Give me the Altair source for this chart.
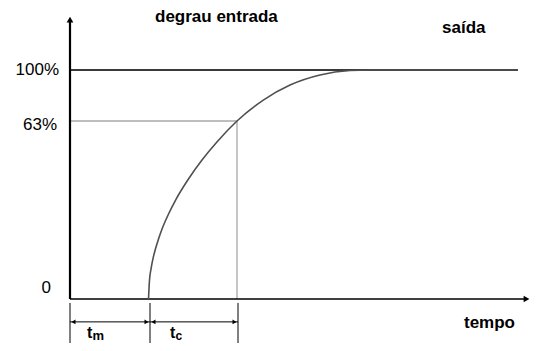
import altair as alt
import pandas as pd

# ---- data (tempo in arbitrary units, response in % of final value) ----
curve_t = [7.85, 7.95, 8.1, 8.3, 8.55, 8.85, 9.25, 9.83, 10.6, 11.83, 13.2, 14.67,
           16.7, 19.33, 22.0, 25.0, 28.0, 30.0, 44.8]
curve_y = [0.0, 6.7, 10.6, 14.3, 17.8, 21.2, 25.2, 29.9, 35.3, 42.4, 49.2, 55.5,
           63.0, 78.2, 89.1, 96.4, 99.6, 100.0, 100.0]

level_labels = ["100%", "63%", "0"]
level_label_t = [-1.1, -1.3, -1.9]
level_label_y = [96.4, 59.8, 2.1]

t_dead = 8.0        # end of tm
t_const = 16.8      # end of tc
t_63 = 16.7
t_end = 44.8
t_axis_end = 45.5
y_axis_top = 135.0
dim_y = -8.1
dim_top = -1.4
dim_bottom = -19.0

x_scale = alt.Scale(domain=[0, 46.5], range=[62, 527])
y_scale = alt.Scale(domain=[0, 63, 100], range=[291, 113, 62])

X = lambda f: alt.X(f, type="quantitative", scale=x_scale, axis=None)
Y = lambda f: alt.Y(f, type="quantitative", scale=y_scale, axis=None)

rules = pd.DataFrame([
    dict(t=0, t2=t_end, y=100, y2=100, c="#3a3a3a", w=2.0),
    dict(t=0, t2=t_63, y=63, y2=63, c="#a8a8a8", w=1.5),
    dict(t=t_63, t2=t_63, y=0, y2=63, c="#8c8c8c", w=1.0),
    dict(t=0, t2=0, y=0, y2=y_axis_top, c="#000000", w=2.2),
    dict(t=0, t2=t_axis_end, y=0, y2=0, c="#000000", w=1.6),
    dict(t=0, t2=0, y=dim_top, y2=dim_bottom, c="#000000", w=1.0),
    dict(t=t_dead, t2=t_dead, y=dim_top, y2=dim_bottom, c="#000000", w=1.0),
    dict(t=t_const, t2=t_const, y=dim_top, y2=dim_bottom, c="#000000", w=1.0),
    dict(t=0, t2=t_dead, y=dim_y, y2=dim_y, c="#000000", w=1.0),
    dict(t=t_dead, t2=t_const, y=dim_y, y2=dim_y, c="#000000", w=1.0),
])

rule_layer = alt.Chart(rules).mark_rule().encode(
    x=X("t"), x2="t2", y=Y("y"), y2="y2",
    color=alt.Color("c:N", scale=None),
    strokeWidth=alt.StrokeWidth("w:Q", scale=None),
)

curve = pd.DataFrame({"t": curve_t, "y": curve_y})
curve_layer = alt.Chart(curve).mark_line(color="#505050", strokeWidth=1.6, interpolate="monotone").encode(
    x=X("t"), y=Y("y")
)

heads = pd.DataFrame([
    dict(t=0, y=136.5, s="triangle-up", z=45),
    dict(t=45.65, y=0, s="triangle-right", z=45),
    dict(t=0.35, y=dim_y, s="triangle-left", z=22),
    dict(t=t_dead - 0.35, y=dim_y, s="triangle-right", z=22),
    dict(t=t_dead + 0.35, y=dim_y, s="triangle-left", z=22),
    dict(t=t_const - 0.35, y=dim_y, s="triangle-right", z=22),
])
head_layer = alt.Chart(heads).mark_point(filled=True, color="#000000", opacity=1).encode(
    x=X("t"), y=Y("y"),
    shape=alt.Shape("s:N", scale=None),
    size=alt.Size("z:Q", scale=None),
)

bold_text = pd.DataFrame([
    dict(t=8.5, y=134.8, txt="degrau entrada", fs=17),
    dict(t=37.2, y=126.9, txt="saída", fs=17),
    dict(t=39.4, y=-10.3, txt="tempo", fs=17),
    dict(t=1.7, y=-13.8, txt="t", fs=16),
    dict(t=2.25, y=-14.4, txt="m", fs=13),
    dict(t=10.0, y=-13.8, txt="t", fs=16),
    dict(t=10.55, y=-14.4, txt="c", fs=12),
])
bold_layer = alt.Chart(bold_text).mark_text(
    align="left", baseline="alphabetic", font="Liberation Sans", fontWeight="bold", color="#000000"
).encode(x=X("t"), y=Y("y"), text="txt:N", size=alt.Size("fs:Q", scale=None))

labels = pd.DataFrame({"t": level_label_t, "y": level_label_y, "txt": level_labels})
label_layer = alt.Chart(labels).mark_text(
    align="right", baseline="alphabetic", font="Liberation Sans", fontSize=17, color="#000000"
).encode(x=X("t"), y=Y("y"), text="txt:N")

chart = alt.layer(rule_layer, curve_layer, head_layer, bold_layer, label_layer).properties(
    width=522, height=335, padding=0,
    autosize=alt.AutoSizeParams(type="none"),
    background="#ffffff",
).configure_view(stroke=None)

chart.save("out.html", embed_options={"renderer": "svg", "actions": False})
